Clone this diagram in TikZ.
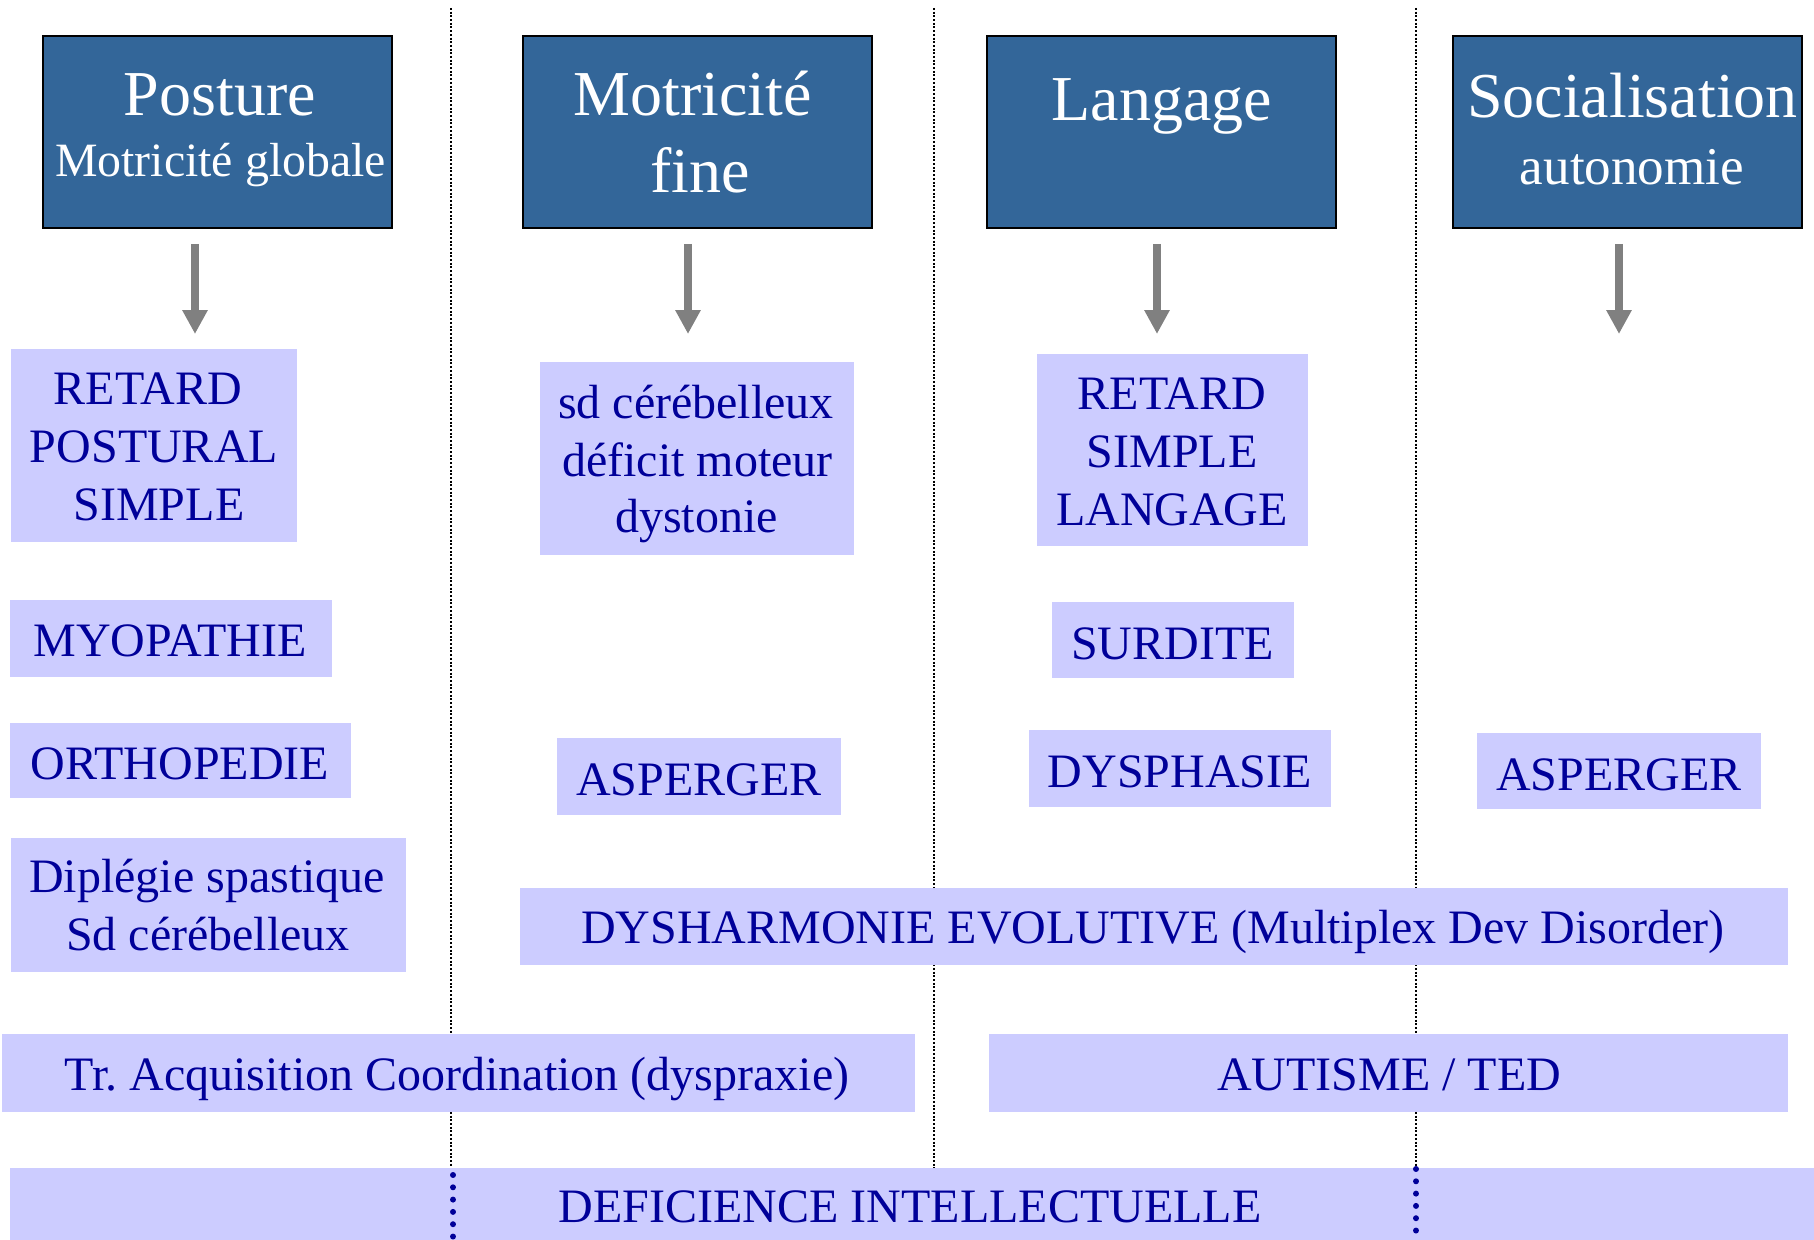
\documentclass[tikz,border=0pt]{standalone}
\usepackage{fontspec}
\setmainfont{Liberation Serif}
\usetikzlibrary{arrows.meta,fit}
\definecolor{hdrblue}{HTML}{336699}
\definecolor{lav}{HTML}{CCCCFF}
\definecolor{navy}{HTML}{000099}
\definecolor{arrgray}{HTML}{808080}
\frenchspacing

\begin{document}
\begin{tikzpicture}[x=0.01cm,y=-0.01cm,
  hdr/.style={draw=black, line width=0.57pt, fill=hdrblue, inner sep=0pt},
  item/.style={fill=lav, draw=none, inner sep=0pt},
  htitle/.style={text=white, anchor=base, inner sep=0pt, font=\fontsize{18.2}{21}\selectfont},
  hsub/.style={text=white, anchor=base, inner sep=0pt, font=\fontsize{13.6}{16}\selectfont},
  hsubl/.style={text=white, anchor=base, inner sep=0pt, font=\fontsize{15.1}{18}\selectfont},
  itxt/.style={text=navy, anchor=base, inner sep=0pt, font=\fontsize{13.65}{16}\selectfont},
  arr/.style={draw=arrgray, line width=2.28pt, -{Triangle[length=6.8pt,width=6.8pt]}},
  sep/.style={draw=black, line width=0.37pt, dash pattern=on 0.57pt off 0.48pt},
  bigdots/.style={draw=navy, line width=1.7pt, line cap=round, dash pattern=on 0pt off 3.5pt}
]
\useasboundingbox (0,0) rectangle (1814,1240);

% column separators
\draw[sep] (451,8) -- (451,1167);
\draw[sep] (934,8) -- (934,1240);
\draw[sep] (1416,8) -- (1416,1167);

% column headers
\node[hdr, fit={(43,36) (392,228)}] (hPost) {};
\node[htitle] (hPostA) at (220,116) {Posture};
\node[hsub] (hPostB) at (220.5,177) {Motricité globale};

\node[hdr, fit={(523,36) (872,228)}] (hFine) {};
\node[htitle] (hFineA) at (692.5,116) {Motricité};
\node[htitle] (hFineB) at (700,193) {fine};

\node[hdr, fit={(987,36) (1336,228)}] (hLang) {};
\node[htitle] (hLangA) at (1162,121) {Langage};

\node[hdr, fit={(1453,36) (1802,228)}] (hSoc) {};
\node[htitle] (hSocA) at (1632.5,118) {Socialisation};
\node[hsubl] (hSocB) at (1632,185) {autonomie};

% arrows under the headers
\coordinate (a1s) at (195,244);  \coordinate (a1e) at (195,334);
\coordinate (a2s) at (688,244);  \coordinate (a2e) at (688,334);
\coordinate (a3s) at (1157,244); \coordinate (a3e) at (1157,334);
\coordinate (a4s) at (1619,244); \coordinate (a4e) at (1619,334);
\draw[arr] (a1s) -- (a1e);
\draw[arr] (a2s) -- (a2e);
\draw[arr] (a3s) -- (a3e);
\draw[arr] (a4s) -- (a4e);

% posture column
\node[item, fit={(11,349) (297,542)}] (retPost) {};
\node[itxt] (retPost1) at (148,405) {RETARD};
\node[itxt] (retPost2) at (154,463) {POSTURAL};
\node[itxt] (retPost3) at (159,521) {SIMPLE};

\node[item, fit={(10,600) (332,677)}] (myo) {};
\node[itxt] (myoT) at (170,657) {MYOPATHIE};

\node[item, fit={(10,723) (351,798)}] (ortho) {};
\node[itxt] (orthoT) at (180,780) {ORTHOPEDIE};

\node[item, fit={(11,838) (406,972)}] (diple) {};
\node[itxt] (diple1) at (207,893) {Diplégie spastique};
\node[itxt] (diple2) at (208,951) {Sd cérébelleux};

% fine motor column
\node[item, fit={(540,362) (854,555)}] (cereb) {};
\node[itxt] (cereb1) at (696,419) {sd cérébelleux};
\node[itxt] (cereb2) at (697.5,476.5) {déficit moteur};
\node[itxt] (cereb3) at (696.5,533) {dystonie};

\node[item, fit={(557,738) (841,815)}] (asp1) {};
\node[itxt] (asp1T) at (699,796) {ASPERGER};

% language column
\node[item, fit={(1037,354) (1308,546)}] (retLang) {};
\node[itxt] (retLang1) at (1172,410) {RETARD};
\node[itxt] (retLang2) at (1172,468) {SIMPLE};
\node[itxt] (retLang3) at (1172,526) {LANGAGE};

\node[item, fit={(1052,602) (1294,678)}] (surd) {};
\node[itxt] (surdT) at (1172.5,660) {SURDITE};

\node[item, fit={(1029,730) (1331,807)}] (dysph) {};
\node[itxt] (dysphT) at (1180,788) {DYSPHASIE};

% socialisation column
\node[item, fit={(1477,733) (1761,809)}] (asp2) {};
\node[itxt] (asp2T) at (1619,791) {ASPERGER};

% bands spanning several columns
\node[item, fit={(520,888) (1788,965)}] (dysh) {};
\node[itxt] (dyshT) at (1153,944) {DYSHARMONIE EVOLUTIVE (Multiplex Dev Disorder)};

\node[item, fit={(2,1034) (915,1112)}] (tac) {};
\node[itxt] (tacT) at (457,1091) {Tr. Acquisition Coordination (dyspraxie)};

\node[item, fit={(989,1034) (1788,1112)}] (aut) {};
\node[itxt] (autT) at (1389,1091) {AUTISME / TED};

\node[item, fit={(10,1168) (1814,1240)}] (defi) {};
\node[itxt] (defiT) at (910,1223) {DEFICIENCE INTELLECTUELLE};

% separators continued across the bottom band
\draw[bigdots] (453,1175) -- (453,1240);
\draw[bigdots] (1416,1169) -- (1416,1240);
\end{tikzpicture}
\end{document}
